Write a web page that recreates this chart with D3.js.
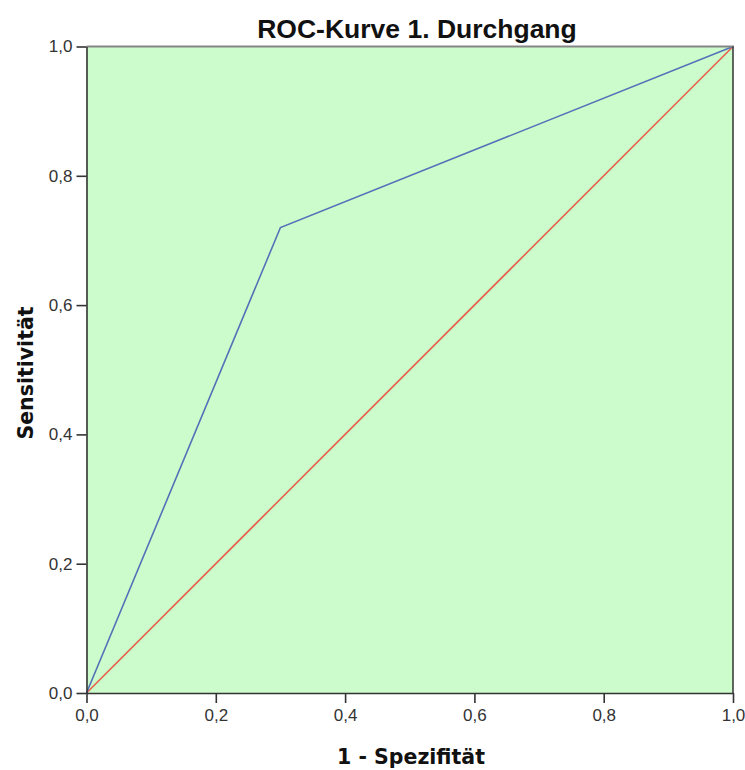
<!DOCTYPE html>
<html><head><meta charset="utf-8">
<script src="https://cdn.jsdelivr.net/npm/d3@7"></script>
<style>body{margin:0;background:#fff;font-family:Arial,"Liberation Sans",sans-serif}</style>
</head><body><svg id="c" width="745" height="770"></svg>
<script>
const title = "ROC-Kurve 1. Durchgang";
const xLabel = "1 - Spezifität";
const yLabel = "Sensitivität";
const rocX = [0, 0.3, 1];
const rocY = [0, 0.72, 1];
const refX = [0, 1];
const refY = [0, 1];
const ticks = [0, 0.2, 0.4, 0.6, 0.8, 1.0];

const L = 86.5, T = 46.5, R = 733, B = 693;
const FF = "Arial, 'Liberation Sans', sans-serif";
const FL = "'DejaVu Sans', Verdana, sans-serif";
const svg = d3.select("#c");
const x = d3.scaleLinear().domain([0,1]).range([L,R]);
const y = d3.scaleLinear().domain([0,1]).range([B,T]);
const fmt = d => d3.format(".1f")(d).replace(".", ",");

svg.append("rect").attr("x",L).attr("y",T).attr("width",R-L).attr("height",B-T).attr("fill","#ccfccc");

const line = d3.line().x(d=>x(d[0])).y(d=>y(d[1]));
svg.append("path").datum(refX.map((v,i)=>[v,refY[i]])).attr("d",line).attr("fill","none").attr("stroke","#e5604a").attr("stroke-width",1.6);
svg.append("path").datum(rocX.map((v,i)=>[v,rocY[i]])).attr("d",line).attr("fill","none").attr("stroke","#5570b8").attr("stroke-width",1.6);

// frame
svg.append("line").attr("x1",L).attr("x2",R+1).attr("y1",T).attr("y2",T).attr("stroke","#858585").attr("stroke-width",2.2);
svg.append("line").attr("x1",R).attr("x2",R).attr("y1",T).attr("y2",B).attr("stroke","#333").attr("stroke-width",1.5);

const xa = svg.append("g").attr("transform",`translate(0,${B})`).call(d3.axisBottom(x).tickValues(ticks).tickFormat(fmt).tickSize(10).tickSizeOuter(0).tickPadding(6));
const ya = svg.append("g").attr("transform",`translate(${L},0)`).call(d3.axisLeft(y).tickValues(ticks).tickFormat(fmt).tickSize(10).tickSizeOuter(0).tickPadding(4));
[xa,ya].forEach(a=>{
  a.select(".domain").attr("stroke","#333").attr("stroke-width",1.6);
  a.selectAll(".tick line").attr("stroke","#333").attr("stroke-width",1.6);
  a.selectAll(".tick text").attr("fill","#333").style("font-size","17px").style("font-family",FF);
});

svg.append("text").attr("x",417).attr("y",38).attr("text-anchor","middle").style("font-family",FF).style("font-size","26.5px").style("font-weight","bold").attr("fill","#111").text(title);
svg.append("text").attr("x",411).attr("y",764).attr("text-anchor","middle").style("font-family",FL).style("font-size","20.5px").style("font-weight","bold").attr("fill","#111").text(xLabel);
svg.append("text").attr("transform",`translate(33,${373}) rotate(-90)`).attr("text-anchor","middle").style("font-family",FL).style("font-size","20.5px").style("font-weight","bold").attr("fill","#111").text(yLabel);
</script></body></html>
